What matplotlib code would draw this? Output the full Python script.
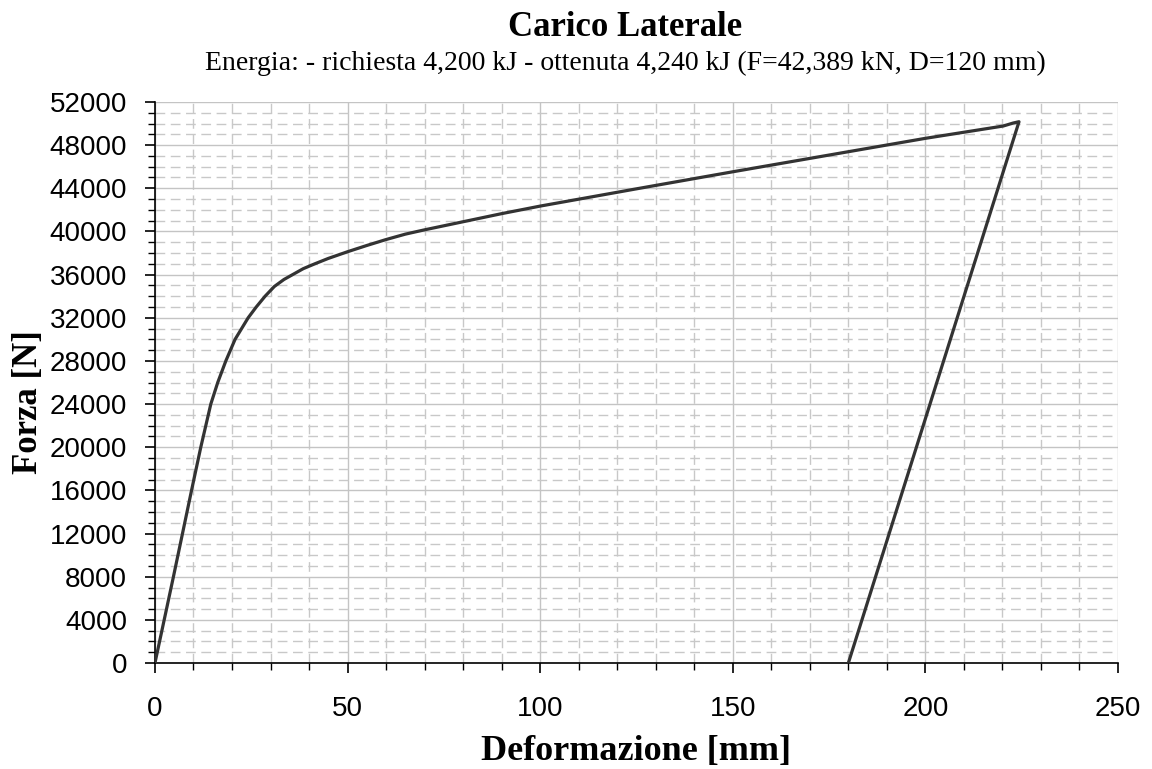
import matplotlib
matplotlib.use('Agg')
import matplotlib.pyplot as plt
from matplotlib.ticker import MultipleLocator

# curva carico-deformazione (carico + scarico)
deformazione = [0, 4.8, 9.5, 11.9, 14.5, 16.3, 18.4, 20.8, 24.2, 26.3, 28.6,
                31.0, 33.5, 36.0, 38.5, 41.5, 45.0, 50.0, 55.0, 60.0, 65.0,
                70.0, 80.0, 90.0, 100.0, 125.0, 150.0, 175.0, 200.0, 220.2,
                222.8, 224.3, 180.0]
forza = [0, 8000, 16000, 20000, 24000, 26000, 28000, 30000, 32000, 33000, 34000,
         34900, 35550, 36050, 36550, 37000, 37500, 38120, 38700, 39250, 39750,
         40150, 40900, 41650, 42350, 43950, 45530, 47080, 48630, 49770,
         50050, 50170, 0]

titolo = 'Carico Laterale'
sottotitolo = 'Energia: - richiesta 4,200 kJ - ottenuta 4,240 kJ (F=42,389 kN, D=120 mm)'

serif = ['Liberation Serif', 'DejaVu Serif']
sans = ['Liberation Sans', 'DejaVu Sans']

fig = plt.figure(figsize=(11.52, 7.69), dpi=100)
ax = fig.add_axes([0.1345, 0.1378, 0.836, 0.7296])

ax.plot(deformazione, forza, color='#333333', lw=2.3,
        solid_joinstyle='round', solid_capstyle='round', zorder=3)

ax.set_xlim(0, 250)
ax.set_ylim(0, 52000)
ax.xaxis.set_major_locator(MultipleLocator(50))
ax.xaxis.set_minor_locator(MultipleLocator(10))
ax.yaxis.set_major_locator(MultipleLocator(4000))
ax.yaxis.set_minor_locator(MultipleLocator(1000))

ax.grid(which='major', color='#c4c4c4', lw=1.0, ls='-')
ax.grid(which='minor', color='#c8c8c8', lw=1.0, ls=(0, (7, 4)))
ax.set_axisbelow(True)

for s in ('top', 'right'):
    ax.spines[s].set_visible(False)
for s in ('left', 'bottom'):
    ax.spines[s].set_color('black')
    ax.spines[s].set_linewidth(1.2)

ax.tick_params(which='major', direction='out', length=7, width=1.2, color='black')
ax.tick_params(which='minor', direction='out', length=5, width=1.0, color='black')
ax.tick_params(axis='x', which='major', pad=17)
ax.tick_params(axis='y', which='major', pad=13)
for lab in ax.get_xticklabels() + ax.get_yticklabels():
    lab.set_family(sans)
    lab.set_fontsize(20)

ax.set_xlabel('Deformazione [mm]', family=serif, fontsize=26, fontweight='bold', labelpad=9)
ax.set_ylabel('Forza [N]', family=serif, fontsize=25, fontweight='bold')
ax.yaxis.set_label_coords(-0.114, 0.465)

fig.text(0.543, 0.953, titolo, family=serif, fontsize=25, fontweight='bold',
         ha='center', va='baseline')
fig.text(0.543, 0.909, sottotitolo, family=serif, fontsize=20,
         ha='center', va='baseline')

fig.savefig('out.png', dpi=100)
plt.close(fig)
